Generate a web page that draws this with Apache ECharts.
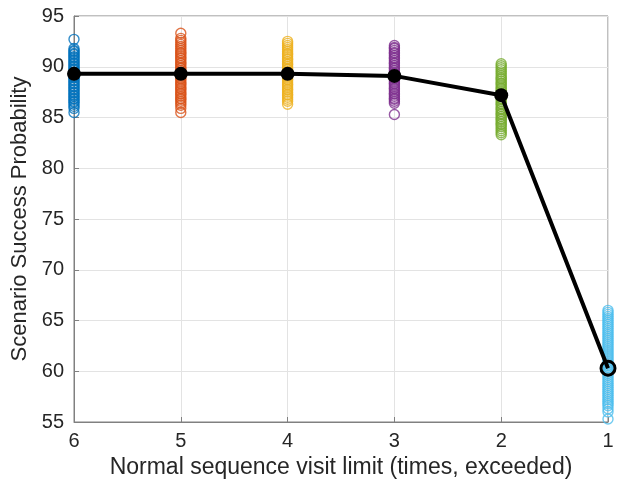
<!DOCTYPE html>
<html>
<head>
<meta charset="utf-8">
<script src="https://cdn.jsdelivr.net/npm/echarts@6/dist/echarts.min.js"></script>
<style>
  html, body { margin: 0; padding: 0; background: #fff; }
  #chart { width: 617px; height: 484px; }
</style>
</head>
<body>
<div id="chart"></div>
<script>
// visit limits on the x axis (drawn 6 -> 1)
const limits = [6, 5, 4, 3, 2, 1];
const yTicks = [55, 60, 65, 70, 75, 80, 85, 90, 95];

// mean success probability per limit
const meanValues = [89.3, 89.3, 89.3, 89.1, 87.2, 60.3];

// individual runs per limit
const runs6 = [85.5, 85.9, 86.1, 86.3, 86.5, 86.6, 86.8, 86.9, 87.1, 87.2, 87.4, 87.5, 87.7, 87.8, 88.0, 88.1,
  88.3, 88.4, 88.6, 88.7, 88.9, 89.0, 89.1, 89.3, 89.4, 89.5, 89.7, 89.8, 90.0, 90.1, 90.3, 90.4,
  90.6, 90.7, 90.9, 91.0, 91.2, 91.3, 91.5, 91.6, 91.8, 92.7];
const runs5 = [85.5, 85.9, 86.2, 86.4, 86.6, 86.8, 86.9, 87.1, 87.3, 87.4, 87.6, 87.8, 87.9, 88.1, 88.3, 88.4,
  88.6, 88.8, 88.9, 89.1, 89.3, 89.4, 89.6, 89.8, 89.9, 90.1, 90.3, 90.4, 90.6, 90.8, 90.9, 91.1,
  91.3, 91.4, 91.6, 91.8, 92.0, 92.2, 92.4, 92.6, 92.8, 93.3];
const runs4 = [86.3, 86.6, 86.8, 87.0, 87.2, 87.3, 87.5, 87.7, 87.8, 88.0, 88.2, 88.3, 88.5, 88.7, 88.8, 89.0,
  89.2, 89.3, 89.5, 89.7, 89.8, 90.0, 90.2, 90.3, 90.5, 90.7, 90.8, 91.0, 91.2, 91.3, 91.5, 91.7,
  91.9, 92.1, 92.3, 92.5];
const runs3 = [85.3, 86.4, 86.6, 86.8, 86.9, 87.1, 87.3, 87.4, 87.6, 87.8, 87.9, 88.1, 88.3, 88.4, 88.6, 88.8,
  88.9, 89.1, 89.3, 89.4, 89.6, 89.8, 89.9, 90.1, 90.3, 90.4, 90.6, 90.8, 90.9, 91.1, 91.3, 91.4,
  91.6, 91.8, 91.9, 92.1];
const runs2 = [83.3, 83.5, 83.7, 83.9, 84.1, 84.3, 84.4, 84.6, 84.8, 84.9, 85.1, 85.3, 85.4, 85.6, 85.8, 85.9,
  86.1, 86.3, 86.4, 86.6, 86.8, 86.9, 87.1, 87.3, 87.4, 87.6, 87.8, 87.9, 88.1, 88.3, 88.4, 88.6,
  88.8, 88.9, 89.1, 89.3, 89.5, 89.7, 89.9, 90.1, 90.3];
const runs1 = [55.3, 56.0, 56.3, 56.6, 56.8, 57.0, 57.2, 57.4, 57.6, 57.8, 58.0, 58.2, 58.4, 58.6, 58.8, 59.0,
  59.2, 59.4, 59.6, 59.8, 60.0, 60.2, 60.4, 60.6, 60.8, 61.0, 61.2, 61.4, 61.6, 61.8, 62.0, 62.2,
  62.4, 62.6, 62.8, 63.0, 63.2, 63.4, 63.6, 63.8, 64.0, 64.2, 64.4, 64.6, 64.8, 65.0, 65.2, 65.4,
  65.6, 65.8, 66.0];

const allRuns = [runs6, runs5, runs4, runs3, runs2, runs1];
const colors = ['#0072BD', '#D95319', '#EDB120', '#7E2F8E', '#77AC30', '#4DBEEE'];

const font = 'Liberation Sans, Arial, Helvetica, sans-serif';
const textColor = '#262626';
const axisColor = '#808080';

const chart = echarts.init(document.getElementById('chart'));

const scatterSeries = allRuns.map((runs, i) => ({
  type: 'scatter',
  data: runs.map(v => [limits[i], v]),
  symbol: 'circle',
  symbolSize: 10,
  itemStyle: { color: 'rgba(0,0,0,0)', borderColor: colors[i], borderWidth: 1.4 },
  z: 2
}));

const meanSeries = {
  type: 'line',
  data: meanValues.map((v, i) => {
    const p = { value: [limits[i], v] };
    if (i === meanValues.length - 1) {
      p.itemStyle = { color: 'rgba(0,0,0,0)', borderColor: '#000', borderWidth: 3 };
    }
    return p;
  }),
  symbol: 'circle',
  symbolSize: 14,
  lineStyle: { color: '#000', width: 4 },
  itemStyle: { color: '#000' },
  z: 5
};

chart.setOption({
  animation: false,
  backgroundColor: '#fff',
  grid: {
    left: 74, right: 9, top: 16, bottom: 62,
    show: true, borderColor: axisColor, borderWidth: 1
  },
  xAxis: {
    type: 'value',
    min: 1, max: 6, interval: 1,
    inverse: true,
    name: 'Normal sequence visit limit (times, exceeded)',
    nameLocation: 'middle',
    nameGap: 34,
    nameTextStyle: { fontFamily: font, fontSize: 23, color: textColor },
    axisLine: { lineStyle: { color: axisColor } },
    axisTick: { inside: true, length: 5, lineStyle: { color: axisColor } },
    axisLabel: { fontFamily: font, fontSize: 20, color: textColor, margin: 9 },
    splitLine: { show: true, lineStyle: { color: '#e3e3e3' } }
  },
  yAxis: {
    type: 'value',
    min: yTicks[0], max: yTicks[yTicks.length - 1], interval: 5,
    name: 'Scenario Success Probability',
    nameLocation: 'middle',
    nameGap: 38,
    nameTextStyle: { fontFamily: font, fontSize: 22, color: textColor },
    axisLine: { show: true, lineStyle: { color: axisColor } },
    axisTick: { show: true, inside: true, length: 5, lineStyle: { color: axisColor } },
    axisLabel: { fontFamily: font, fontSize: 20, color: textColor, margin: 10 },
    splitLine: { show: true, lineStyle: { color: '#e3e3e3' } }
  },
  series: [...scatterSeries, meanSeries]
});
</script>
</body>
</html>
